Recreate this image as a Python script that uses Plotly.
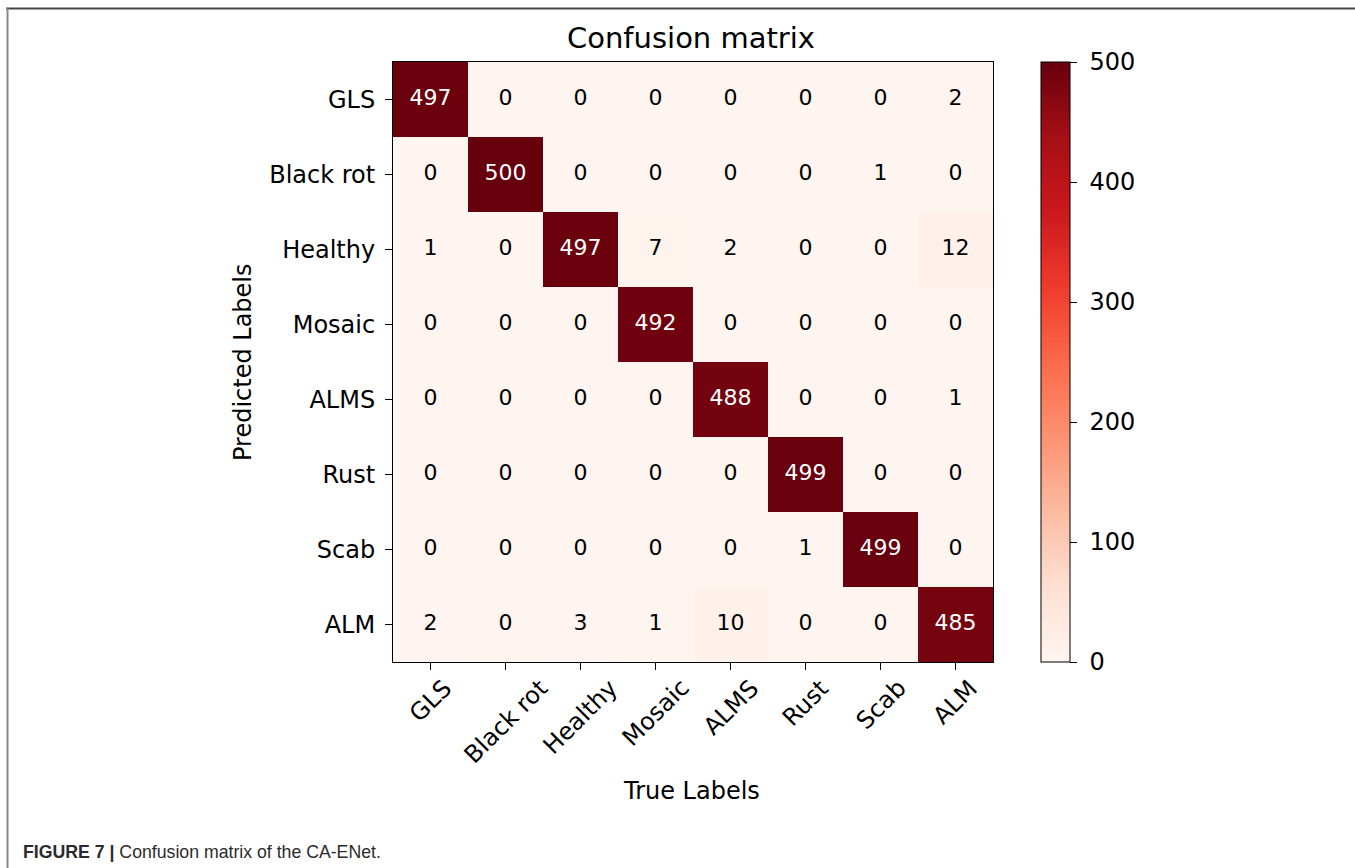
import plotly.graph_objects as go

true_labels = ["GLS", "Black rot", "Healthy", "Mosaic", "ALMS", "Rust", "Scab", "ALM"]
pred_labels = ["GLS", "Black rot", "Healthy", "Mosaic", "ALMS", "Rust", "Scab", "ALM"]

row_gls = [497, 0, 0, 0, 0, 0, 0, 2]
row_blackrot = [0, 500, 0, 0, 0, 0, 1, 0]
row_healthy = [1, 0, 497, 7, 2, 0, 0, 12]
row_mosaic = [0, 0, 0, 492, 0, 0, 0, 0]
row_alms = [0, 0, 0, 0, 488, 0, 0, 1]
row_rust = [0, 0, 0, 0, 0, 499, 0, 0]
row_scab = [0, 0, 0, 0, 0, 1, 499, 0]
row_alm = [2, 0, 3, 1, 10, 0, 0, 485]

cbar_ticks = [0, 100, 200, 300, 400, 500]

matrix = [row_gls, row_blackrot, row_healthy, row_mosaic, row_alms, row_rust, row_scab, row_alm]

reds = ['#fff5f0', '#fee0d2', '#fcbba1', '#fc9272', '#fb6a4a',
        '#ef3b2c', '#cb181d', '#a50f15', '#67000d']
colorscale = [[i / (len(reds) - 1), c] for i, c in enumerate(reds)]

FONT = "DejaVu Sans"
TICK_SIZE = 24
CELL_SIZE = 22

fig = go.Figure()
fig.add_trace(go.Heatmap(
    z=matrix, x=true_labels, y=pred_labels,
    zmin=0, zmax=500, colorscale=colorscale,
    showscale=True,
    colorbar=dict(
        x=1.08, xanchor="left", xpad=0, y=0.5, yanchor="middle",
        len=1, lenmode="fraction", ypad=0,
        thickness=29, outlinewidth=1, outlinecolor="black",
        tickvals=cbar_ticks,
        ticktext=["\u00a0" + str(t) for t in cbar_ticks],
        ticks="outside", ticklen=7, tickwidth=1,
        tickcolor="black", tickfont=dict(family=FONT, size=TICK_SIZE, color="black"),
    ),
    hoverinfo="skip",
))

# cell text
tx_dark, ty_dark, tt_dark = [], [], []
tx_light, ty_light, tt_light = [], [], []
for i, row in enumerate(matrix):
    for j, v in enumerate(row):
        if v > 250:
            tx_light.append(true_labels[j]); ty_light.append(pred_labels[i]); tt_light.append(str(v))
        else:
            tx_dark.append(true_labels[j]); ty_dark.append(pred_labels[i]); tt_dark.append(str(v))

fig.add_trace(go.Scatter(x=tx_dark, y=ty_dark, text=tt_dark, mode="text",
                         textfont=dict(family=FONT, size=CELL_SIZE, color="black"),
                         showlegend=False, hoverinfo="skip"))
fig.add_trace(go.Scatter(x=tx_light, y=ty_light, text=tt_light, mode="text",
                         textfont=dict(family=FONT, size=CELL_SIZE, color="white"),
                         showlegend=False, hoverinfo="skip"))

axis_common = dict(
    showline=True, linecolor="black", linewidth=1, mirror=True,
    ticks="outside", ticklen=7, tickwidth=1, tickcolor="black",
    tickfont=dict(family=FONT, size=TICK_SIZE, color="black"),
    showgrid=False, zeroline=False, fixedrange=True,
)

fig.update_xaxes(**axis_common, showticklabels=False, categoryorder="array",
                 categoryarray=true_labels, range=[-0.5, 7.5])
fig.update_yaxes(**axis_common, categoryorder="array",
                 categoryarray=pred_labels, range=[7.5, -0.5], ticklabelstandoff=5)

annotations = [
    dict(text="Confusion matrix", x=0.497, y=1.04, xref="paper", yref="paper",
         xanchor="center", yanchor="middle", showarrow=False,
         font=dict(family=FONT, size=29, color="black")),
    dict(text="True Labels", x=0.497, y=-0.215, xref="paper", yref="paper",
         xanchor="center", yanchor="middle", showarrow=False,
         font=dict(family=FONT, size=TICK_SIZE, color="black")),
    dict(text="Predicted Labels", x=-0.25, y=0.5, xref="paper", yref="paper",
         xanchor="center", yanchor="middle", showarrow=False, textangle=-90,
         font=dict(family=FONT, size=TICK_SIZE, color="black")),
    dict(text="<b>FIGURE 7 |</b> Confusion matrix of the CA-ENet.",
         x=(21 - 393) / 600, y=-0.3167, xref="paper", yref="paper",
         xanchor="left", yanchor="middle", showarrow=False,
         font=dict(family="Liberation Sans", size=17.7, color="#2b2b2b")),
]

# rotated x tick labels, centred under each tick (matplotlib-style)
for lab in true_labels:
    annotations.append(dict(
        text=lab, x=lab, xref="x", y=(662 - 673) / 600, yref="paper",
        xanchor="center", yanchor="top", showarrow=False, textangle=-45,
        borderpad=0, font=dict(family=FONT, size=TICK_SIZE, color="black")))

shapes = [
    dict(type="line", xref="paper", yref="paper",
         x0=-0.645, x1=1.62, y0=(662 - 8.5) / 600, y1=(662 - 8.5) / 600,
         line=dict(color="#444444", width=2)),
    dict(type="line", xref="paper", yref="paper",
         x0=(7.5 - 393) / 600, x1=(7.5 - 393) / 600, y0=(662 - 8) / 600, y1=-0.4,
         line=dict(color="#888888", width=2)),
]

fig.update_layout(
    width=1355, height=868,
    margin=dict(l=393, r=362, t=62, b=206),
    paper_bgcolor="white", plot_bgcolor="white",
    annotations=annotations, shapes=shapes,
    showlegend=False,
)

fig.write_html("out.html")
